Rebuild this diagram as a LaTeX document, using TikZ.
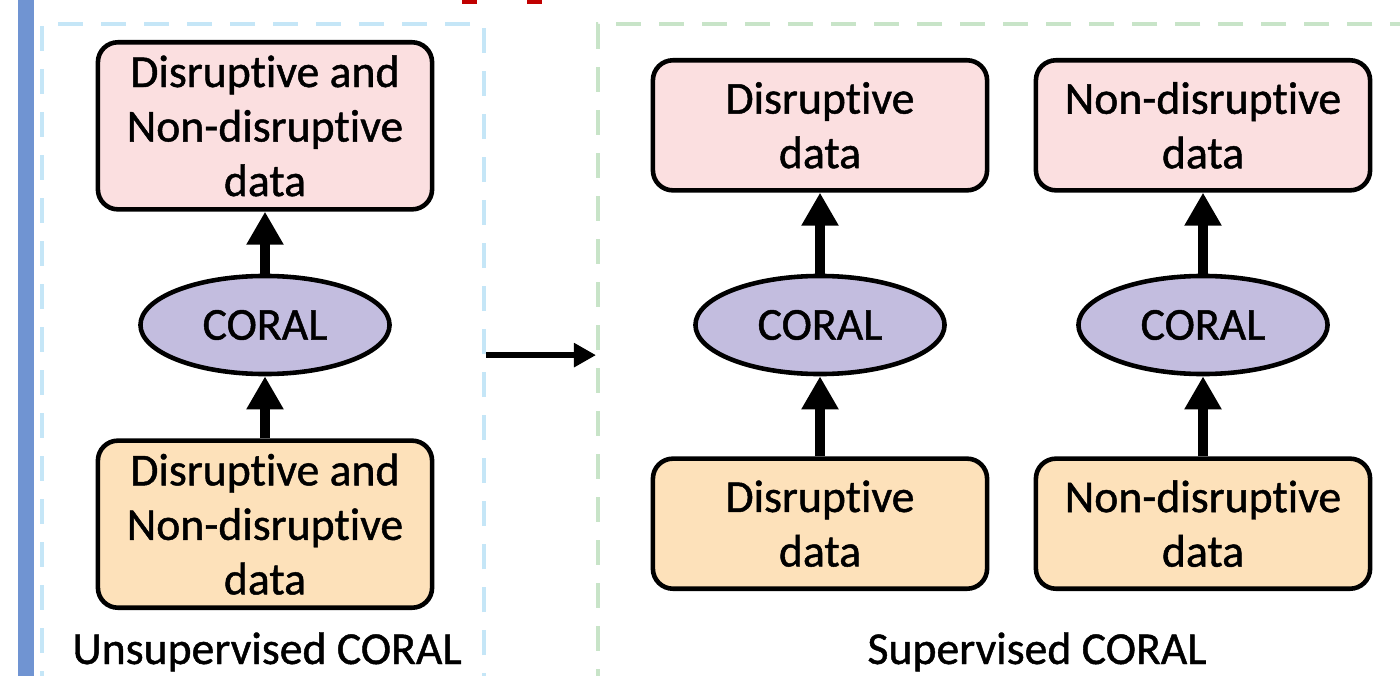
\documentclass[tikz,border=0pt]{standalone}
\usepackage{fontspec}
\setmainfont{Carlito}[FakeBold=1, Ligatures=CommonOff]
\usetikzlibrary{positioning, arrows.meta, shapes.geometric}

\definecolor{barblue}{RGB}{112,148,210}
\definecolor{markred}{RGB}{192,0,0}
\definecolor{unsupline}{RGB}{197,230,247}
\definecolor{supline}{RGB}{200,228,200}
\definecolor{outpink}{RGB}{251,223,224}
\definecolor{inpeach}{RGB}{253,225,186}
\definecolor{coralfill}{RGB}{195,189,223}

\begin{document}
\begin{tikzpicture}[x=0.01cm, y=-0.01cm, font=\fontsize{13pt}{15.5pt}\selectfont,
  databox/.style={draw, line width=1.3pt, rounded corners=2mm, align=center,
    minimum width=3.34cm, inner sep=0pt},
  outbox/.style={databox, fill=outpink},
  inbox/.style={databox, fill=inpeach},
  coral/.style={draw, ellipse, line width=1.3pt, fill=coralfill,
    minimum width=2.49cm, minimum height=0.98cm, inner sep=0pt},
  group/.style={draw, line width=1.1pt, dash pattern=on 2.5mm off 1.8mm,
    anchor=north west, minimum height=6.62cm, inner sep=0pt},
  flow/.style={-{Triangle[width=3.5mm,length=3.3mm]}, line width=2.8pt},
  link/.style={-{Triangle[width=2.3mm,length=2.2mm]}, line width=1.7pt},
  grouplabel/.style={anchor=base}]
  \useasboundingbox (0,0) rectangle (1400,676);
  \clip (0,0) rectangle (1400,676);
  \fill[barblue] (18,0) rectangle (34,676);
  \fill[markred] (462,0) rectangle (477,4);
  \fill[markred] (527,0) rectangle (542,4);

  \node[group, draw=unsupline, minimum width=4.42cm] (unsup) at (40,22) {};
  \node[group, draw=supline, minimum width=8.3cm] (sup) at (596,22) {};

  \node[coral] (ucoral) at (265,325) {CORAL};
  \node[outbox, minimum height=1.67cm, above=0.62cm of ucoral] (uout)
       {Disruptive and\\Non-disruptive\\data};
  \node[inbox, minimum height=1.67cm, below=0.62cm of ucoral] (uin)
       {Disruptive and\\Non-disruptive\\data};
  \draw[flow] (uin) -- (ucoral);
  \draw[flow] (ucoral) -- (uout);

  \node[coral] (dcoral) at (820,325) {CORAL};
  \node[outbox, minimum height=1.3cm, above=0.81cm of dcoral] (dout)
       {Disruptive\\data};
  \node[inbox, minimum height=1.3cm, below=0.8cm of dcoral] (din)
       {Disruptive\\data};
  \draw[flow] (din) -- (dcoral);
  \draw[flow] (dcoral) -- (dout);

  \node[coral] (ncoral) at (1203,325) {CORAL};
  \node[outbox, minimum height=1.3cm, above=0.81cm of ncoral] (nout)
       {Non-disruptive\\data};
  \node[inbox, minimum height=1.3cm, below=0.8cm of ncoral] (nin)
       {Non-disruptive\\data};
  \draw[flow] (nin) -- (ncoral);
  \draw[flow] (ncoral) -- (nout);

  \draw[link] (unsup.east) -- (sup.west);

  \node[grouplabel] (ulabel) at (267,664) {Unsupervised CORAL};
  \node[grouplabel] (slabel) at (1037,664) {Supervised CORAL};
\end{tikzpicture}
\end{document}
